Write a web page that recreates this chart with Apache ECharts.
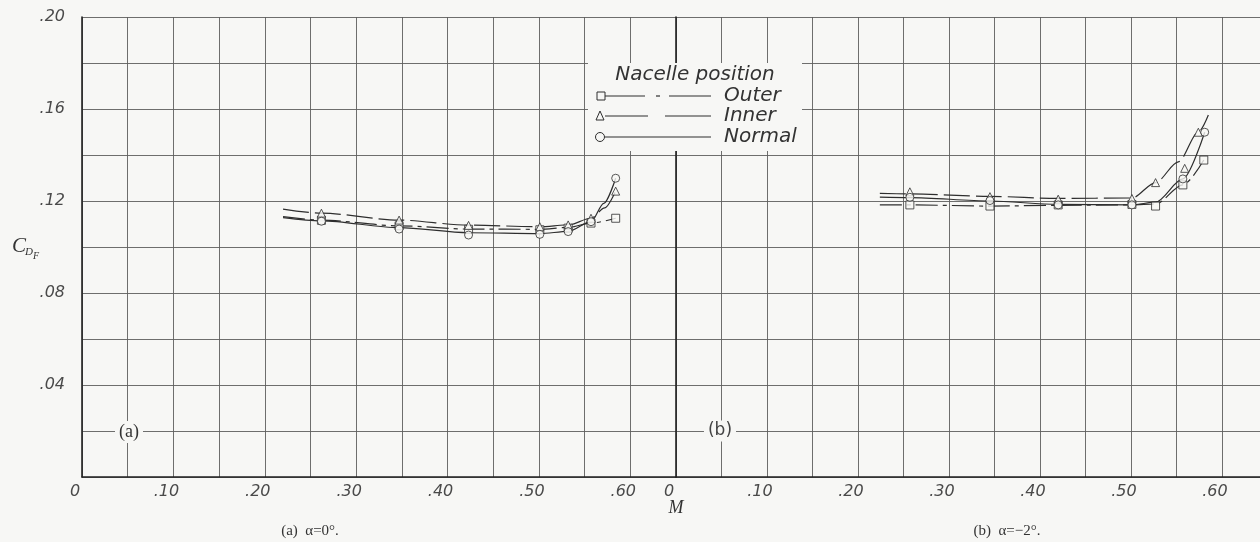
<!DOCTYPE html>
<html>
<head>
<meta charset="utf-8">
<script src="https://cdn.jsdelivr.net/npm/echarts@6/dist/echarts.min.js"></script>
<style>
  html, body { margin: 0; padding: 0; background: #f7f7f5; }
  #chart { width: 1260px; height: 542px; }
</style>
</head>
<body>
<div id="chart"></div>
<script>
// ---- Panel (a): alpha = 0 deg ----
const machPtsA    = [0.262, 0.347, 0.423, 0.501, 0.532, 0.557, 0.584];
const outerPtsA   = [0.1116, 0.1092, 0.1077, 0.1075, 0.1082, 0.1104, 0.1125];
const innerPtsA   = [0.1147, 0.1117, 0.1094, 0.1088, 0.1096, 0.1125, 0.1243];
const normalPtsA  = [0.1112, 0.1078, 0.1052, 0.1055, 0.1067, 0.1110, 0.1299];

// faired curves, panel (a)
const outerCurveMA  = [0.220, 0.262, 0.347, 0.423, 0.501, 0.532, 0.557, 0.584];
const outerCurveA   = [0.1132, 0.1117, 0.1092, 0.1078, 0.1077, 0.1085, 0.1104, 0.1125];
const innerCurveMA  = [0.220, 0.262, 0.347, 0.423, 0.501, 0.532, 0.557, 0.572, 0.584];
const innerCurveA   = [0.1165, 0.1147, 0.1117, 0.1095, 0.1088, 0.1096, 0.1125, 0.1170, 0.1243];
const normalCurveMA = [0.220, 0.262, 0.347, 0.423, 0.501, 0.532, 0.557, 0.571, 0.584];
const normalCurveA  = [0.1128, 0.1114, 0.1084, 0.1062, 0.1058, 0.1068, 0.1110, 0.1190, 0.1299];

// ---- Panel (b): alpha = -2 deg ----
const outerMachB  = [0.257, 0.345, 0.420, 0.501, 0.527, 0.557, 0.580];
const outerPtsB   = [0.1183, 0.1178, 0.1183, 0.1185, 0.1178, 0.1270, 0.1378];
const innerMachB  = [0.257, 0.345, 0.420, 0.501, 0.527, 0.559, 0.574];
const innerPtsB   = [0.1240, 0.1219, 0.1208, 0.1211, 0.1280, 0.1342, 0.1499];
const normalMachB = [0.257, 0.345, 0.420, 0.501, 0.557, 0.581];
const normalPtsB  = [0.1216, 0.1202, 0.1183, 0.1183, 0.1296, 0.1499];

// faired curves, panel (b)
const outerCurveMB  = [0.224, 0.257, 0.345, 0.420, 0.501, 0.527, 0.557, 0.580];
const outerCurveB   = [0.1183, 0.1183, 0.1178, 0.1181, 0.1183, 0.1187, 0.1270, 0.1378];
const innerCurveMB  = [0.224, 0.257, 0.345, 0.420, 0.501, 0.527, 0.552, 0.574, 0.585];
const innerCurveB   = [0.1233, 0.1231, 0.1220, 0.1211, 0.1213, 0.1280, 0.1370, 0.1499, 0.1574];
const normalCurveMB = [0.224, 0.257, 0.345, 0.420, 0.501, 0.527, 0.557, 0.581];
const normalCurveB  = [0.1217, 0.1215, 0.1200, 0.1185, 0.1183, 0.1195, 0.1296, 0.1499];

// axis ticks
const machTickLabels = ['0', '.10', '.20', '.30', '.40', '.50', '.60'];
const cdTickLabels   = ['.04', '.08', '.12', '.16', '.20'];

const BG = '#f7f7f5';
const INK = '#2e2e2e';
const GRIDC = '#5e5e5e';
const SANS = '"DejaVu Sans", "Open Sans", sans-serif';
const SERIF = '"Liberation Serif", "DejaVu Serif", serif';

const styles = {
  outer:  { symbol: 'rect',     dash: [22, 5, 4, 5] },
  inner:  { symbol: 'triangle', dash: [26, 6] },
  normal: { symbol: 'circle',   dash: 'solid' }
};

const zip = (xs, ys) => xs.map((x, i) => [x, ys[i]]);

function curve(name, xs, ys, panel) {
  return {
    name, type: 'line', xAxisIndex: panel, yAxisIndex: panel,
    data: zip(xs, ys), smooth: 0.3, smoothMonotone: 'x',
    symbol: 'none', silent: true, z: 3,
    lineStyle: { color: INK, width: 1.2, type: styles[name].dash }
  };
}
function points(name, xs, ys, panel) {
  return {
    name, type: 'scatter', xAxisIndex: panel, yAxisIndex: panel,
    data: zip(xs, ys), symbol: styles[name].symbol, symbolSize: 8, z: 5,
    itemStyle: { color: BG, borderColor: INK, borderWidth: 1 }
  };
}

function machLabel(v) {
  const k = Math.round(v * 100);
  if (k % 10 !== 0 || k > 60) return '';
  return machTickLabels[k / 10];
}
function cdLabel(v) {
  const k = Math.round(v * 100);
  if (k === 0 || k % 4 !== 0) return '';
  return cdTickLabels[k / 4 - 1];
}

const labelFont = { fontFamily: SANS, fontStyle: 'italic', fontSize: 16, color: '#4a4a4a' };

// right panel runs off the page edge: its axis stops where the page does
const PANEL_B_MAX = 584 / 910;

function xAxis(panel) {
  return {
    type: 'value', gridIndex: panel, min: 0, max: panel === 0 ? 0.65 : PANEL_B_MAX, interval: 0.05,
    axisLine: { show: true, onZero: false, lineStyle: { color: '#222', width: 1.6 } },
    axisTick: { show: false },
    splitLine: { show: true, lineStyle: { color: GRIDC, width: 0.9 } },
    axisLabel: Object.assign({ formatter: machLabel, margin: 7, padding: [0, 14, 0, 0], showMaxLabel: false }, labelFont)
  };
}
function yAxis(panel) {
  return {
    type: 'value', gridIndex: panel, min: 0, max: 0.20, interval: 0.02,
    axisLine: { show: true, onZero: false, lineStyle: { color: '#222', width: 1.6 } },
    axisTick: { show: false },
    splitLine: { show: true, lineStyle: { color: GRIDC, width: 0.9 } },
    axisLabel: Object.assign({ show: panel === 0, formatter: cdLabel, margin: 17 }, labelFont)
  };
}

// legend drawn as graphic elements
const legendRows = [
  { y: 96,  text: 'Outer',  segs: [[605, 645], [656, 660], [669, 711]], mark: 'rect' },
  { y: 116, text: 'Inner',  segs: [[605, 648], [665, 711]], mark: 'triangle' },
  { y: 137, text: 'Normal', segs: [[605, 711]], mark: 'circle' }
];
const legendGraphics = [
  { type: 'rect', shape: { x: 588, y: 63, width: 214, height: 88 }, style: { fill: BG }, z: 10 },
  { type: 'text', x: 695, y: 75, z: 11,
    style: { text: 'Nacelle position', font: 'italic 20px ' + SANS, fill: '#333', align: 'center', verticalAlign: 'middle' } }
];
legendRows.forEach(r => {
  r.segs.forEach(s => legendGraphics.push({
    type: 'line', z: 11, shape: { x1: s[0], y1: r.y, x2: s[1], y2: r.y },
    style: { stroke: INK, lineWidth: 1.2 }
  }));
  const mk = { z: 12, style: { fill: BG, stroke: INK, lineWidth: 1 } };
  if (r.mark === 'rect') Object.assign(mk, { type: 'rect', shape: { x: 597, y: r.y - 4, width: 8, height: 8 } });
  if (r.mark === 'triangle') Object.assign(mk, { type: 'polygon', shape: { points: [[600, r.y - 5], [596, r.y + 4], [604, r.y + 4]] } });
  if (r.mark === 'circle') Object.assign(mk, { type: 'circle', shape: { cx: 600, cy: r.y, r: 4.5 } });
  legendGraphics.push(mk);
  legendGraphics.push({ type: 'text', x: 724, y: r.y, z: 11,
    style: { text: r.text, font: 'italic 20px ' + SANS, fill: '#333', verticalAlign: 'middle' } });
});

const annotations = [
  // panel tags on the 0.02 line
  { type: 'text', x: 129, y: 432, z: 10,
    style: { text: '(a)', font: '18px ' + SERIF, fill: '#333', align: 'center', verticalAlign: 'middle',
             backgroundColor: BG, padding: [2, 4] } },
  { type: 'text', x: 720, y: 431, z: 10,
    style: { text: '(b)', font: '17px ' + SANS, fill: '#444', align: 'center', verticalAlign: 'middle',
             backgroundColor: BG, padding: [2, 4] } },
  // y-axis title C_DF
  { type: 'text', x: 12, y: 246, style: { text: 'C', font: 'italic 21px ' + SERIF, fill: '#333', verticalAlign: 'middle' } },
  { type: 'text', x: 25, y: 252, style: { text: 'D', font: 'italic 11px ' + SERIF, fill: '#333', verticalAlign: 'middle' } },
  { type: 'text', x: 33, y: 256, style: { text: 'F', font: 'italic 10px ' + SERIF, fill: '#333', verticalAlign: 'middle' } },
  // x-axis title
  { type: 'text', x: 676, y: 508, style: { text: 'M', font: 'italic 18px ' + SERIF, fill: '#333', align: 'center', verticalAlign: 'middle' } },
  // captions
  { type: 'text', x: 310, y: 531, style: { text: '(a)  α=0°.', font: '15px ' + SERIF, fill: '#333', align: 'center', verticalAlign: 'middle' } },
  { type: 'text', x: 1007, y: 531, style: { text: '(b)  α=−2°.', font: '15px ' + SERIF, fill: '#333', align: 'center', verticalAlign: 'middle' } }
];

const chart = echarts.init(document.getElementById('chart'), null, { renderer: 'canvas' });
chart.setOption({
  backgroundColor: BG,
  animation: false,
  grid: [
    { left: 82, top: 17, width: 594, height: 460 },
    { left: 676, top: 17, width: 584, height: 460 }
  ],
  xAxis: [xAxis(0), xAxis(1)],
  yAxis: [yAxis(0), yAxis(1)],
  series: [
    curve('outer', outerCurveMA, outerCurveA, 0),
    curve('inner', innerCurveMA, innerCurveA, 0),
    curve('normal', normalCurveMA, normalCurveA, 0),
    points('outer', machPtsA, outerPtsA, 0),
    points('inner', machPtsA, innerPtsA, 0),
    points('normal', machPtsA, normalPtsA, 0),
    curve('outer', outerCurveMB, outerCurveB, 1),
    curve('inner', innerCurveMB, innerCurveB, 1),
    curve('normal', normalCurveMB, normalCurveB, 1),
    points('outer', outerMachB, outerPtsB, 1),
    points('inner', innerMachB, innerPtsB, 1),
    points('normal', normalMachB, normalPtsB, 1)
  ],
  graphic: legendGraphics.concat(annotations)
});
</script>
</body>
</html>
